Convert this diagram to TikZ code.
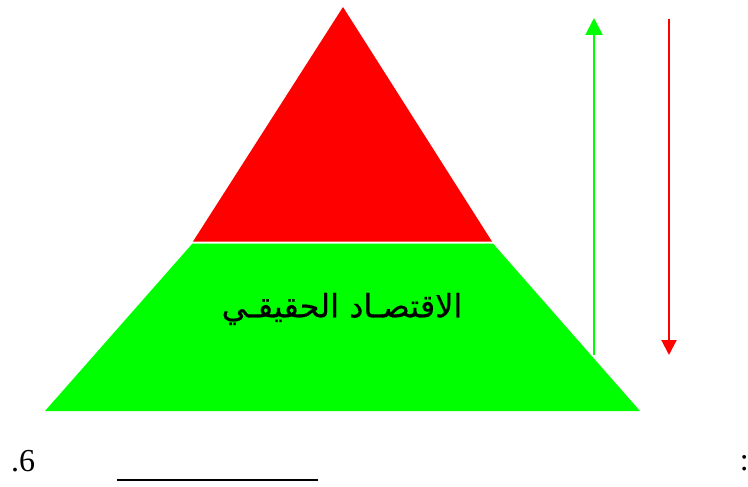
\documentclass[tikz,border=0pt]{standalone}
\usepackage{fontspec}
\setmainfont{Liberation Serif}
\newfontfamily\arabicfont[Script=Arabic,FakeBold=0.5]{DejaVu Sans}
\TeXXeTstate=1
\usetikzlibrary{arrows.meta}
\definecolor{pgreen}{RGB}{0,255,0}
\definecolor{pred}{RGB}{255,0,0}
\tikzset{
  upar/.style={draw=pgreen, line width=2pt, -{Triangle[width=17pt,length=17pt]}},
  downar/.style={draw=pred, line width=2pt, -{Triangle[width=15pt,length=15pt]}},
  lbl/.style={inner sep=0pt, font=\fontsize{32}{36}\selectfont}
}
\begin{document}
\begin{tikzpicture}[x=1pt,y=-1pt]
\useasboundingbox (0,0) rectangle (748,487);
% red top
\fill[pred] (343,7) -- (492,241.5) -- (193,241.5) -- cycle;
% green bottom
\fill[pgreen] (192.5,243.5) -- (493,243.5) -- (640,411) -- (45,411) -- cycle;
\node[inner sep=0pt, font=\arabicfont\fontsize{32}{36}\selectfont] (txt) at (342,309) {\beginR الاقتصـاد الحقيقـي\endR};
% arrows
\coordinate (gs) at (594,355);
\coordinate (ge) at (594,18);
\draw[upar] (gs) -- (ge);
\coordinate (rs) at (669,19);
\coordinate (re) at (669,355);
\draw[downar] (rs) -- (re);
% bottom line texts
\node[lbl, anchor=base west] (num) at (11,471) {.6};
\node[lbl, anchor=base east] (col) at (749,470) {:};
\coordinate (u1) at (117,480);
\coordinate (u2) at (318,480);
\draw[line width=2.2pt] (u1) -- (u2);
\end{tikzpicture}
\end{document}
